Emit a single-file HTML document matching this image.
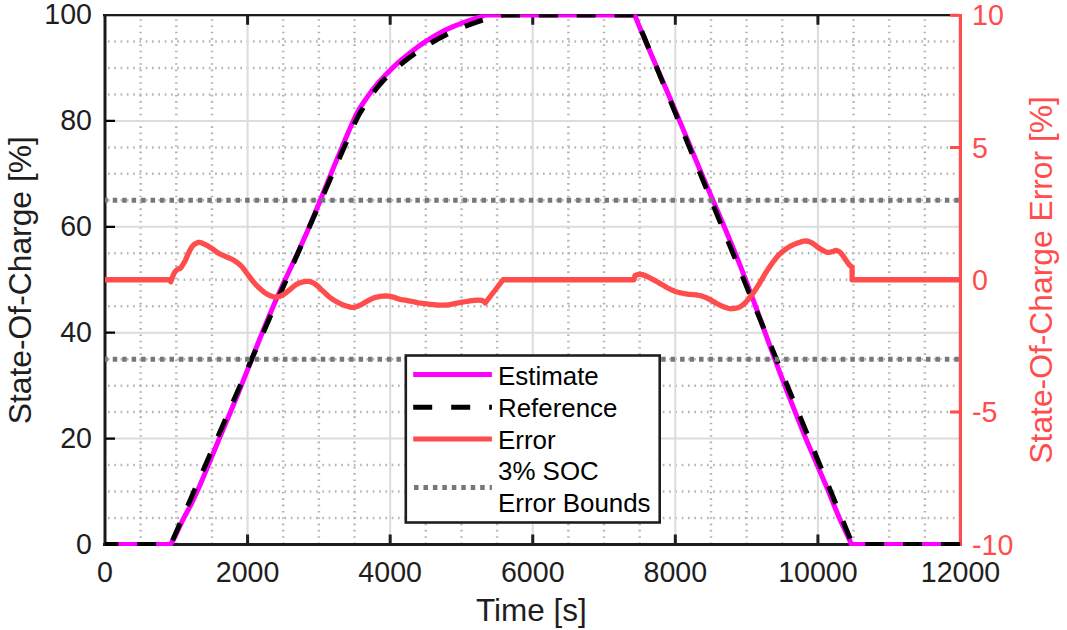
<!DOCTYPE html><html><head><meta charset="utf-8"><style>html,body{margin:0;padding:0;background:#fff;overflow:hidden}svg{display:block}text{font-family:"Liberation Sans",sans-serif}</style></head><body>
<svg width="1067" height="630" viewBox="0 0 1067 630">
<defs><clipPath id="cp"><rect x="103.3" y="14.2" width="858.70" height="531.80"/></clipPath></defs>
<path d="M140.65 15.00V544.50M176.29 15.00V544.50M211.94 15.00V544.50M283.23 15.00V544.50M318.88 15.00V544.50M354.52 15.00V544.50M425.81 15.00V544.50M461.46 15.00V544.50M497.10 15.00V544.50M568.40 15.00V544.50M604.04 15.00V544.50M639.69 15.00V544.50M710.98 15.00V544.50M746.62 15.00V544.50M782.27 15.00V544.50M853.56 15.00V544.50M889.21 15.00V544.50M924.85 15.00V544.50" stroke="#B4B4B4" stroke-width="2.5" stroke-dasharray="1.6 4.705" stroke-dashoffset="2.175" fill="none"/>
<path d="M105.00 518.02H960.50M105.00 491.55H960.50M105.00 465.07H960.50M105.00 412.12H960.50M105.00 385.65H960.50M105.00 359.18H960.50M105.00 306.23H960.50M105.00 279.75H960.50M105.00 253.27H960.50M105.00 200.32H960.50M105.00 173.85H960.50M105.00 147.38H960.50M105.00 94.43H960.50M105.00 67.95H960.50M105.00 41.48H960.50" stroke="#B4B4B4" stroke-width="2.5" stroke-dasharray="1.6 4.705" stroke-dashoffset="3.325" fill="none"/>
<path d="M247.58 15.00V544.50M390.17 15.00V544.50M532.75 15.00V544.50M675.33 15.00V544.50M817.92 15.00V544.50M105.00 438.60H960.50M105.00 332.70H960.50M105.00 226.80H960.50M105.00 120.90H960.50" stroke="#DCDCDC" stroke-width="2" fill="none"/>
<rect x="103.5" y="14" width="3" height="532" fill="#1a1a1a"/>
<rect x="103" y="14" width="857" height="2.3" fill="#1a1a1a"/>
<rect x="103" y="543" width="857" height="3" fill="#1e1e1e"/>
<rect x="958.8" y="14" width="3.2" height="532" fill="#FF4D4D"/>
<path d="M247.58 543.00V534.40M247.58 16.00V24.80M390.17 543.00V534.40M390.17 16.00V24.80M532.75 543.00V534.40M532.75 16.00V24.80M675.33 543.00V534.40M675.33 16.00V24.80M817.92 543.00V534.40M817.92 16.00V24.80" stroke="#1e1e1e" stroke-width="3" fill="none"/>
<path d="M106.00 438.60H115.00M106.00 332.70H115.00M106.00 226.80H115.00M106.00 120.90H115.00" stroke="#000" stroke-width="2.3" fill="none"/>
<path d="M959.00 544.30H950.00M959.00 412.12H950.00M959.00 279.75H950.00M959.00 147.38H950.00M959.00 15.20H950.00" stroke="#FF4D4D" stroke-width="3" fill="none"/>
<g clip-path="url(#cp)">
<path d="M105.00 544.50 169.50 544.50 170.80 544.11 173.00 540.28 174.50 537.48 178.00 530.16 180.00 525.68 182.00 521.59 185.00 515.73 188.50 509.29 192.00 502.54 195.00 496.22 199.50 486.22 206.50 469.62 219.00 439.32 231.00 410.75 238.00 393.82 242.00 383.91 253.00 355.79 257.50 344.49 265.00 326.01 272.00 309.25 276.50 298.82 281.00 288.75 285.00 280.04 296.50 255.50 301.50 244.45 307.50 230.90 311.50 221.57 315.50 211.95 333.50 167.60 346.50 136.57 351.50 124.86 354.00 119.27 357.00 113.16 359.50 108.69 361.50 105.51 366.50 98.16 371.00 91.89 374.00 88.04 377.00 84.38 380.00 80.90 383.00 77.61 387.00 73.45 390.50 69.96 395.50 65.17 399.00 61.95 402.50 58.93 406.50 55.63 411.50 51.68 416.00 48.25 420.00 45.34 423.50 42.92 431.50 37.77 435.50 35.37 439.50 33.10 443.50 30.98 446.50 29.49 453.00 26.60 461.50 23.24 469.00 20.57 482.00 16.29 483.50 15.71 485.00 15.00 634.00 15.00 635.06 15.83 639.50 26.91 643.00 35.31 674.00 107.57 684.00 131.39 702.00 174.69 723.00 223.74 732.00 245.20 740.00 265.06 747.50 284.63 755.50 306.24 770.00 346.20 779.50 371.73 789.00 396.32 800.00 424.05 805.00 436.47 809.00 446.09 827.00 487.79 836.00 510.04 838.50 515.97 841.50 522.77 848.50 537.81 851.50 544.50 852.00 544.50 852.50 544.36 852.56 544.50 960.50 544.50" stroke="#FF00FF" stroke-width="5.0" fill="none" stroke-linejoin="round"/>
<path d="M105.00 544.50 170.80 544.50 353.00 126.98 355.00 122.61 357.00 118.50 358.50 115.62 360.50 112.10 368.00 100.20 371.00 95.79 374.00 91.68 376.50 88.46 379.50 84.83 382.00 81.98 385.00 78.76 388.00 75.72 391.00 72.84 394.00 70.11 397.50 67.07 401.50 63.75 405.50 60.55 409.50 57.48 414.00 54.18 418.00 51.37 422.50 48.34 427.00 45.46 431.50 42.72 439.50 38.18 448.00 33.81 456.50 29.87 461.00 27.96 465.50 26.16 474.50 22.88 479.00 21.39 484.00 19.85 493.50 17.24 498.50 16.02 503.10 15.00 635.06 15.00 852.56 544.50 960.50 544.50" stroke="#000" stroke-width="5.0" fill="none" stroke-dasharray="18.925 18.925" stroke-dashoffset="5.625"/>
<path d="M105.00 200.32H960.50" stroke="#777777" stroke-width="5" stroke-dasharray="4.5 4.956" stroke-dashoffset="1.71" fill="none"/>
<path d="M105.00 359.18H960.50" stroke="#777777" stroke-width="5" stroke-dasharray="4.5 4.956" stroke-dashoffset="1.71" fill="none"/>
<path d="M105.00 279.75 169.50 279.75 170.80 281.70 171.18 280.69 171.70 279.24 172.31 277.54 172.98 275.80 173.66 274.18 174.30 272.90 174.93 271.93 175.60 271.13 176.27 270.46 176.93 269.90 177.54 269.42 178.10 269.00 178.56 268.74 178.93 268.69 179.27 268.73 179.61 268.72 180.01 268.55 180.50 268.10 181.11 267.34 181.81 266.36 182.56 265.23 183.33 263.98 184.09 262.69 184.80 261.40 185.46 260.07 186.10 258.63 186.73 257.15 187.35 255.67 187.97 254.23 188.60 252.90 189.23 251.64 189.87 250.39 190.50 249.20 191.13 248.09 191.77 247.08 192.40 246.20 193.04 245.47 193.69 244.88 194.33 244.39 194.97 243.98 195.60 243.62 196.20 243.30 196.76 243.00 197.26 242.75 197.76 242.55 198.27 242.42 198.84 242.36 199.50 242.40 200.25 242.53 201.07 242.76 201.94 243.06 202.86 243.42 203.82 243.84 204.80 244.30 205.82 244.81 206.90 245.39 208.01 246.02 209.14 246.69 210.28 247.39 211.40 248.10 212.51 248.86 213.63 249.68 214.74 250.53 215.86 251.37 216.98 252.18 218.10 252.90 219.21 253.54 220.30 254.11 221.39 254.64 222.50 255.16 223.63 255.67 224.80 256.20 226.01 256.72 227.24 257.20 228.50 257.68 229.78 258.20 231.08 258.79 232.40 259.50 233.76 260.31 235.17 261.21 236.61 262.18 238.03 263.21 239.40 264.32 240.70 265.50 241.91 266.77 243.06 268.14 244.16 269.59 245.23 271.07 246.31 272.55 247.40 274.00 248.50 275.45 249.60 276.93 250.70 278.41 251.80 279.87 252.90 281.28 254.00 282.60 255.11 283.85 256.23 285.04 257.34 286.18 258.46 287.26 259.58 288.30 260.70 289.30 261.81 290.26 262.90 291.18 263.99 292.05 265.10 292.87 266.23 293.62 267.40 294.30 268.61 294.94 269.87 295.54 271.14 296.09 272.43 296.53 273.72 296.85 275.00 297.00 276.27 296.98 277.53 296.82 278.80 296.53 280.07 296.11 281.33 295.60 282.60 295.00 283.87 294.26 285.13 293.37 286.39 292.38 287.66 291.34 288.93 290.29 290.20 289.30 291.45 288.31 292.69 287.27 293.92 286.24 295.18 285.25 296.50 284.35 297.90 283.60 299.43 282.96 301.08 282.40 302.79 281.94 304.49 281.59 306.11 281.37 307.60 281.30 308.93 281.39 310.14 281.63 311.29 281.99 312.40 282.49 313.52 283.09 314.70 283.80 315.92 284.65 317.14 285.66 318.37 286.79 319.62 287.98 320.89 289.20 322.20 290.40 323.54 291.62 324.90 292.90 326.28 294.21 327.69 295.51 329.13 296.75 330.60 297.90 332.13 298.98 333.73 300.01 335.36 300.99 336.97 301.91 338.53 302.75 340.00 303.50 341.38 304.15 342.69 304.71 343.96 305.19 345.17 305.60 346.35 305.97 347.50 306.30 348.59 306.61 349.60 306.89 350.58 307.12 351.55 307.29 352.55 307.35 353.60 307.30 354.71 307.12 355.85 306.82 357.01 306.43 358.20 305.96 359.39 305.44 360.60 304.90 361.82 304.29 363.06 303.60 364.32 302.86 365.58 302.10 366.84 301.37 368.10 300.70 369.33 300.08 370.53 299.46 371.73 298.88 372.96 298.33 374.24 297.83 375.60 297.40 377.08 297.03 378.66 296.71 380.30 296.44 381.94 296.23 383.52 296.08 385.00 296.00 386.36 296.00 387.64 296.07 388.87 296.21 390.07 296.40 391.27 296.64 392.50 296.90 393.72 297.22 394.90 297.61 396.07 298.04 397.29 298.49 398.59 298.92 400.00 299.30 401.52 299.63 403.11 299.92 404.78 300.19 406.53 300.47 408.37 300.77 410.30 301.10 412.28 301.49 414.29 301.91 416.39 302.36 418.62 302.81 421.04 303.23 423.70 303.60 426.71 303.97 430.06 304.36 433.59 304.72 437.16 305.01 440.61 305.19 443.80 305.20 446.72 305.01 449.50 304.63 452.16 304.14 454.74 303.59 457.27 303.06 459.80 302.60 462.37 302.18 464.96 301.75 467.50 301.33 469.93 300.94 472.19 300.62 474.20 300.40 475.96 300.27 477.53 300.21 478.91 300.21 480.14 300.28 481.23 300.41 482.20 300.60 483.02 300.90 483.68 301.33 484.20 301.81 484.61 302.30 484.93 302.71 485.20 303.00 503.10 279.75 634.00 279.75 635.00 275.60 635.50 275.41 636.19 275.13 637.00 274.81 637.89 274.50 638.81 274.28 639.70 274.20 640.55 274.25 641.40 274.39 642.27 274.60 643.19 274.89 644.19 275.26 645.30 275.70 646.54 276.24 647.89 276.88 649.32 277.59 650.79 278.36 652.26 279.13 653.70 279.90 655.11 280.67 656.53 281.46 657.95 282.27 659.37 283.09 660.79 283.90 662.20 284.70 663.62 285.51 665.04 286.34 666.46 287.17 667.87 287.98 669.25 288.73 670.60 289.40 671.88 289.99 673.10 290.51 674.29 290.97 675.49 291.40 676.75 291.81 678.10 292.20 679.56 292.58 681.09 292.94 682.68 293.27 684.30 293.57 685.91 293.85 687.50 294.10 689.09 294.30 690.71 294.44 692.33 294.55 693.91 294.66 695.45 294.80 696.90 295.00 698.25 295.24 699.51 295.49 700.72 295.77 701.90 296.10 703.08 296.47 704.30 296.90 705.55 297.41 706.82 297.99 708.09 298.62 709.35 299.29 710.59 299.95 711.80 300.60 712.95 301.24 714.06 301.90 715.14 302.56 716.23 303.22 717.38 303.87 718.60 304.50 719.94 305.14 721.39 305.80 722.89 306.46 724.37 307.06 725.80 307.59 727.10 308.00 728.24 308.30 729.27 308.53 730.23 308.68 731.18 308.74 732.18 308.72 733.30 308.60 734.53 308.42 735.84 308.20 737.20 307.88 738.59 307.44 740.00 306.82 741.40 306.00 742.80 304.95 744.23 303.69 745.67 302.27 747.11 300.71 748.56 299.04 750.00 297.30 751.43 295.46 752.87 293.48 754.31 291.39 755.74 289.23 757.17 287.03 758.60 284.80 760.01 282.52 761.41 280.14 762.81 277.72 764.22 275.29 765.64 272.91 767.10 270.60 768.63 268.31 770.22 265.99 771.83 263.71 773.41 261.53 774.92 259.54 776.30 257.80 777.53 256.35 778.64 255.15 779.68 254.13 780.68 253.23 781.67 252.37 782.70 251.50 783.75 250.63 784.80 249.81 785.85 249.05 786.90 248.33 787.95 247.65 789.00 247.00 790.02 246.40 791.01 245.86 792.00 245.35 793.03 244.87 794.15 244.39 795.40 243.90 796.84 243.35 798.45 242.75 800.15 242.16 801.85 241.63 803.46 241.22 804.90 241.00 806.15 240.97 807.27 241.10 808.30 241.34 809.29 241.69 810.27 242.12 811.30 242.60 812.35 243.18 813.40 243.88 814.45 244.66 815.50 245.47 816.55 246.26 817.60 247.00 818.69 247.71 819.80 248.43 820.93 249.13 822.02 249.80 823.05 250.39 824.00 250.90 824.83 251.32 825.57 251.67 826.25 251.96 826.91 252.17 827.58 252.32 828.30 252.40 829.09 252.38 829.92 252.25 830.76 252.05 831.59 251.82 832.38 251.59 833.10 251.40 833.73 251.21 834.27 250.97 834.78 250.74 835.28 250.55 835.81 250.46 836.40 250.50 837.05 250.66 837.74 250.90 838.46 251.23 839.19 251.67 839.94 252.22 840.70 252.90 841.48 253.77 842.30 254.84 843.13 256.02 843.96 257.24 844.75 258.43 845.50 259.50 846.20 260.49 846.88 261.47 847.52 262.42 848.14 263.30 848.74 264.11 849.30 264.80 849.86 265.38 850.41 265.87 850.94 266.28 851.41 266.61 851.81 266.88 852.10 267.10 852.10 279.75 960.50 279.75" stroke="#FF4D4D" stroke-width="5.3" fill="none" stroke-linejoin="round"/>
</g>
<text x="105.00" y="581.6" font-size="28.6" fill="#1e1e1e" text-anchor="middle">0</text>
<text x="247.58" y="581.6" font-size="28.6" fill="#1e1e1e" text-anchor="middle">2000</text>
<text x="390.17" y="581.6" font-size="28.6" fill="#1e1e1e" text-anchor="middle">4000</text>
<text x="532.75" y="581.6" font-size="28.6" fill="#1e1e1e" text-anchor="middle">6000</text>
<text x="675.33" y="581.6" font-size="28.6" fill="#1e1e1e" text-anchor="middle">8000</text>
<text x="817.92" y="581.6" font-size="28.6" fill="#1e1e1e" text-anchor="middle">10000</text>
<text x="960.50" y="581.6" font-size="28.6" fill="#1e1e1e" text-anchor="middle">12000</text>
<text x="92" y="553.70" font-size="28.6" fill="#1e1e1e" text-anchor="end">0</text>
<text x="92" y="447.80" font-size="28.6" fill="#1e1e1e" text-anchor="end">20</text>
<text x="92" y="341.90" font-size="28.6" fill="#1e1e1e" text-anchor="end">40</text>
<text x="92" y="236.00" font-size="28.6" fill="#1e1e1e" text-anchor="end">60</text>
<text x="92" y="130.10" font-size="28.6" fill="#1e1e1e" text-anchor="end">80</text>
<text x="92" y="24.20" font-size="28.6" fill="#1e1e1e" text-anchor="end">100</text>
<text x="972" y="554.70" font-size="28.6" fill="#FF4D4D">-10</text>
<text x="972" y="422.32" font-size="28.6" fill="#FF4D4D">-5</text>
<text x="972" y="289.95" font-size="28.6" fill="#FF4D4D">0</text>
<text x="972" y="157.57" font-size="28.6" fill="#FF4D4D">5</text>
<text x="972" y="25.20" font-size="28.6" fill="#FF4D4D">10</text>
<text x="531.35" y="620.5" font-size="31.5" fill="#1e1e1e" text-anchor="middle">Time [s]</text>
<text transform="translate(31,280.2) rotate(-90)" font-size="31.8" fill="#1e1e1e" text-anchor="middle">State-Of-Charge [%]</text>
<text transform="translate(1052,279.9) rotate(-90)" font-size="31.8" fill="#FF4D4D" text-anchor="middle">State-Of-Charge Error [%]</text>
<rect x="405.8" y="355.5" width="253.9" height="167.0" fill="#fff" stroke="#1e1e1e" stroke-width="2.6"/>
<path d="M413.2 374.4H491.9" stroke="#FF00FF" stroke-width="5.0"/>
<path d="M413.2 407.3H491.9" stroke="#000" stroke-width="5.0" stroke-dasharray="19 19"/>
<path d="M413.2 439H491.9" stroke="#FF4D4D" stroke-width="5.0"/>
<path d="M413.2 487.6H491.9" stroke="#777" stroke-width="5" stroke-dasharray="4.5 4.956" stroke-dashoffset="-0.8"/>
<text x="498" y="384.7" font-size="25.9" fill="#000">Estimate</text>
<text x="498" y="417.1" font-size="25.9" fill="#000">Reference</text>
<text x="498" y="448.5" font-size="25.9" fill="#000">Error</text>
<text x="498" y="480.2" font-size="25.9" fill="#000">3% SOC</text>
<text x="498" y="511.7" font-size="25.9" fill="#000">Error Bounds</text>
</svg></body></html>
